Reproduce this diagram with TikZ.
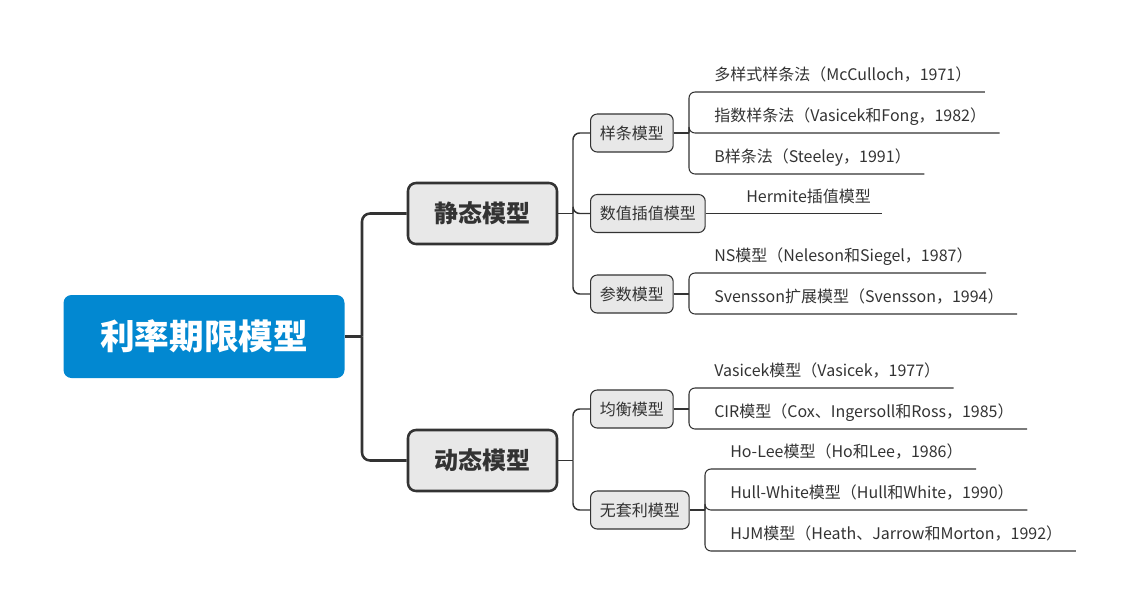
\documentclass[tikz,border=0pt]{standalone}
\usepackage{fontspec}
\setmainfont{Noto Sans CJK SC}
\definecolor{rootblue}{HTML}{0288D1}
\definecolor{boxgray}{HTML}{E8E8E8}
\definecolor{linegray}{HTML}{333333}
\tikzset{
  rootbox/.style={fill=rootblue, draw=none, rounded corners=6pt, minimum width=210.75pt, minimum height=62.25pt, text=white, font=\fontsize{26}{30}\selectfont\bfseries},
  mainbox/.style={fill=boxgray, draw=linegray, line width=1.9pt, rounded corners=6pt, minimum width=111.75pt, minimum height=45.75pt, text=linegray, font=\fontsize{18}{22}\selectfont\bfseries},
  subbox/.style={fill=boxgray, draw=linegray, line width=0.8pt, rounded corners=5pt, minimum height=28.5pt, inner xsep=7pt, anchor=west, text=linegray, font=\fontsize{12}{14}\selectfont},
  leaf/.style={anchor=south west, inner sep=0pt, text depth=8.25pt, text=linegray, font=\fontsize{12}{14}\selectfont},
  thickline/.style={draw=linegray, line width=1.9pt, rounded corners=6pt},
  midline/.style={draw=linegray, line width=1.1pt, rounded corners=5pt},
  thinline/.style={draw=linegray, line width=0.8pt, rounded corners=4.5pt}
}
\begin{document}
\begin{tikzpicture}[x=0.75pt,y=-0.75pt]
\useasboundingbox (0,0) rectangle (1136,615);

% root and first level
\node[rootbox] (root) at (204,336.5) {利率期限模型};
\node[mainbox] (st) at (482.5,213.5) {静态模型};
\node[mainbox] (dt) at (482.5,460.5) {动态模型};
\coordinate (r) at (362,336.5);
\draw[thickline] (root.east) -- (r);
\draw[thickline] (r) |- (st.west);
\draw[thickline] (r) |- (dt.west);

% second level
\node[subbox] (spl) at (590,133) {样条模型};
\node[subbox] (num) at (590,213.5) {数值插值模型};
\node[subbox] (par) at (590,294) {参数模型};
\node[subbox] (eq) at (590,409) {均衡模型};
\node[subbox] (arb) at (590,510) {无套利模型};
\coordinate (s) at (573,213.5);
\coordinate (d) at (573,460.5);
\draw[midline] (st.east) -- (s);
\draw[midline] (dt.east) -- (d);
\foreach \n in {spl,num,par}{
  \draw[midline] (s) |- (\n.west);
}
\foreach \n in {eq,arb}{
  \draw[midline] (d) |- (\n.west);
}

% leaves
\coordinate (b1) at (689,133);
\coordinate (b3) at (689,294);
\coordinate (b4) at (689,409);
\coordinate (b5) at (705,510);
\draw[midline] (spl.east) -- (b1);
\draw[midline] (par.east) -- (b3);
\draw[midline] (eq.east) -- (b4);
\draw[midline] (arb.east) -- (b5);

\foreach \n/\y/\t in {l1/92/{多样式样条法（McCulloch，1971）},
                      l2/133/{指数样条法（Vasicek和Fong，1982）},
                      l3/174/{B样条法（Steeley，1991）}}{
  \node[leaf] (\n) at (714,\y) {\t};
  \draw[thinline] (b1) |- ([xshift=10pt]\n.south east);
}
\node[leaf] (h) at (746,213.5) {Hermite插值模型};
\draw[thinline] (num.east) -- ([xshift=8pt]h.south east);
\foreach \n/\y/\t in {p1/273/{NS模型（Neleson和Siegel，1987）},
                      p2/314/{Svensson扩展模型（Svensson，1994）}}{
  \node[leaf] (\n) at (714,\y) {\t};
  \draw[thinline] (b3) |- ([xshift=10pt]\n.south east);
}
\foreach \n/\y/\t in {e1/388/{Vasicek模型（Vasicek，1977）},
                      e2/429/{CIR模型（Cox、Ingersoll和Ross，1985）}}{
  \node[leaf] (\n) at (714,\y) {\t};
  \draw[thinline] (b4) |- ([xshift=10pt]\n.south east);
}
\foreach \n/\y/\t in {a1/469/{Ho-Lee模型（Ho和Lee，1986）},
                      a2/510/{Hull-White模型（Hull和White，1990）},
                      a3/551/{HJM模型（Heath、Jarrow和Morton，1992）}}{
  \node[leaf] (\n) at (730,\y) {\t};
  \draw[thinline] (b5) |- ([xshift=10pt]\n.south east);
}
\end{tikzpicture}
\end{document}
